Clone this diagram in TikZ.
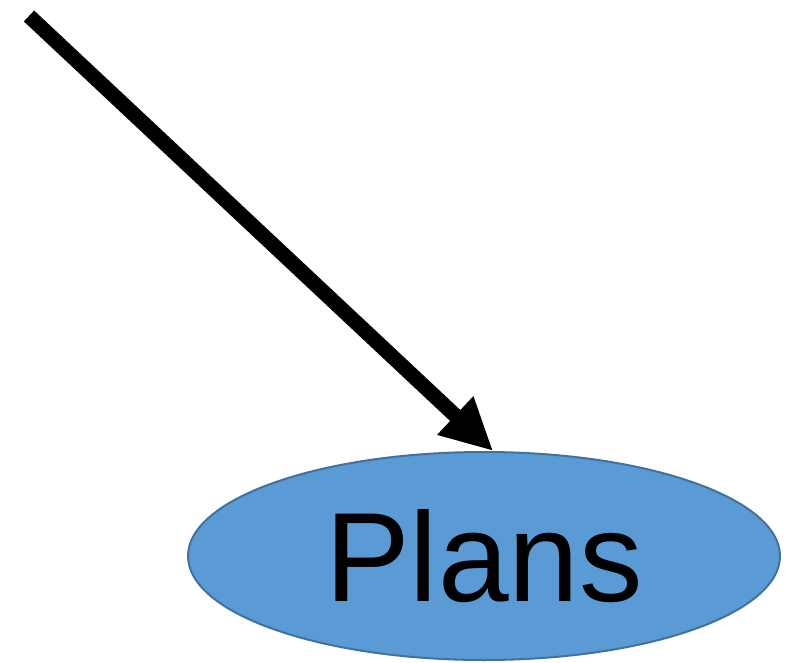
\documentclass[tikz,border=0pt]{standalone}
\usepackage{fontspec}
\setmainfont{Liberation Sans}
\usetikzlibrary{arrows.meta,shapes.geometric}
\definecolor{planfill}{HTML}{5B9BD5}
\definecolor{planedge}{HTML}{41719C}
\tikzset{
    goal/.style={ellipse,draw=planedge,fill=planfill,line width=2pt,
        minimum width=592pt,minimum height=208pt,inner sep=0pt,
        font=\fontsize{127}{127}\selectfont},
    bigarrow/.style={line width=15pt,-{Triangle[length=52pt,width=49pt]}}
}
\begin{document}
\begin{tikzpicture}[x=1pt,y=-1pt]
    \useasboundingbox (0,0) rectangle (795,663);
    %the ellipse and where the arrow comes from
    \node[goal] (Plans) at (484,556) {Plans};
    \coordinate (start) at (29,16);
    \draw [bigarrow] (start) -- (Plans.85);
\end{tikzpicture}
\end{document}
